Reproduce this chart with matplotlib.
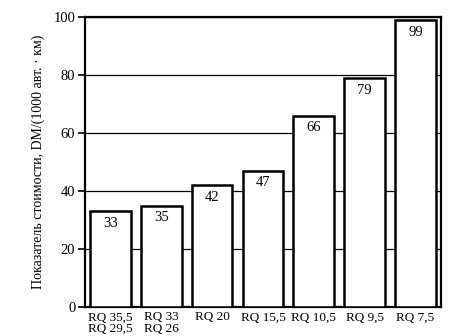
import matplotlib.pyplot as plt

labels = ["RQ 35,5\nRQ 29,5", "RQ 33\nRQ 26", "RQ 20", "RQ 15,5", "RQ 10,5", "RQ 9,5", "RQ 7,5"]
values = [33, 35, 42, 47, 66, 79, 99]
yticks = [0, 20, 40, 60, 80, 100]

plt.rcParams["font.family"] = ["Liberation Serif", "DejaVu Serif"]

fig = plt.figure(figsize=(4.7, 3.36), dpi=100)
ax = fig.add_axes([0.181, 0.086, 0.757, 0.863])

x = range(len(values))
ax.bar(x, values, width=0.8, color="white", edgecolor="black", linewidth=1.8, zorder=3)

# value labels inside the top of each bar
for xi, v in zip(x, values):
    ax.annotate(str(v), (xi, v), xytext=(0, -4), textcoords="offset points",
                ha="center", va="top", fontsize=10.5, zorder=4)

ax.set_xlim(-0.5, 6.5)
ax.set_ylim(0, 100)
ax.set_yticks(yticks)
ax.set_xticks(list(x))
ax.set_xticklabels(labels, fontsize=9.5, linespacing=0.95)
ax.tick_params(axis="x", length=0, pad=3)
ax.tick_params(axis="y", length=5, width=1.2, labelsize=10.5, pad=2)
ax.yaxis.grid(True, color="black", linewidth=0.9, zorder=0)
ax.set_axisbelow(True)

for s in ax.spines.values():
    s.set_linewidth(1.6)

ax.set_ylabel("Показатель стоимости, DM/(1000 авт. · км)", fontsize=10, labelpad=6)

fig.savefig("out.png", dpi=100)
